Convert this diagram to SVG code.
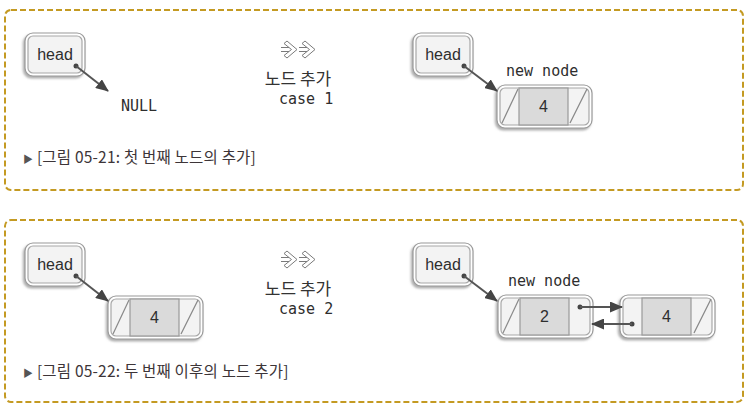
<svg xmlns="http://www.w3.org/2000/svg" xmlns:xlink="http://www.w3.org/1999/xlink" width="753" height="415" viewBox="0 0 753 415">
<style>
.panel{fill:none;stroke:#c49a22;stroke-width:2;stroke-dasharray:6 3}
.outer{fill:#fff;stroke:#9a9a9a;stroke-width:1.2}
.inner{fill:#f3f3f3;stroke:#a8a8a8;stroke-width:1.2}
.mid{fill:#dadada;stroke:#9a9a9a;stroke-width:1.2}
.slash{stroke:#888;stroke-width:1.2}
.lbl{font-family:"Liberation Sans",Arial,sans-serif;fill:#2e2e2e}
.mono{font-family:"DejaVu Sans Mono","Liberation Mono",monospace;fill:#2e2e2e}
.kr{font-family:"Noto Sans CJK KR","Noto Sans",sans-serif;fill:#333}
.cap{font-family:"Noto Sans CJK KR","Noto Sans",sans-serif;fill:#3d3538;font-size:15.5px;letter-spacing:0.2px}
.link{stroke:#555;stroke-width:2;fill:none;marker-end:url(#ah)}
.dot{fill:#444}
.icon{fill:#fff;stroke:#7a7a7a;stroke-width:1}
</style>
<defs>
<filter id="sh" x="-20%" y="-20%" width="140%" height="150%">
<feDropShadow dx="-1.5" dy="2" stdDeviation="1" flood-color="#777" flood-opacity="0.6"/>
</filter>
<marker id="ah" markerWidth="13" markerHeight="11" refX="12" refY="5.5" orient="auto" markerUnits="userSpaceOnUse">
<path d="M0,0 L13,5.5 L0,11 Z" fill="#444"/>
</marker>
<g id="headShape">
<rect class="outer" x="0" y="0" width="60" height="43" rx="8" filter="url(#sh)"/>
<rect class="inner" x="3" y="3" width="54" height="37" rx="5"/>
<text class="lbl" x="30" y="27" font-size="16" text-anchor="middle">head</text>
</g>
<g id="nodeShape">
<rect class="outer" x="0" y="0" width="95" height="43" rx="8" filter="url(#sh)"/>
<rect class="inner" x="3" y="3" width="89" height="37" rx="5"/>
<rect class="mid" x="22" y="3" width="49" height="37"/>
</g>
<g id="arrowIcon">
<path class="icon" d="M6,0 L16,8.5 L6,17 L3,14.5 L10.5,8.5 L3,2.5 Z"/>
<path d="M0,6.5 H8 M0,10.5 H8" stroke="#7a7a7a" stroke-width="1"/>
</g>
</defs>

<rect class="panel" x="5" y="10" width="738" height="180" rx="6"/>
<rect class="panel" x="5" y="220" width="738" height="182" rx="6"/>

<!-- Panel 1 -->
<g id="head1a"><use xlink:href="#headShape" x="25" y="33"/></g>
<g id="null1"><text class="mono" x="121" y="111" font-size="15">NULL</text></g>
<g id="step1">
<use xlink:href="#arrowIcon" x="281" y="41"/>
<use xlink:href="#arrowIcon" x="299" y="41"/>
<text class="kr" x="298" y="85" font-size="17" text-anchor="middle">노드 추가</text>
<text class="mono" x="279" y="104" font-size="15">case 1</text>
</g>
<g id="head1b"><use xlink:href="#headShape" x="413" y="33"/></g>
<g id="newnode1">
<text class="mono" x="506" y="76" font-size="15">new node</text>
<use xlink:href="#nodeShape" x="497" y="85"/>
<line class="slash" x1="502" y1="123" x2="518" y2="89"/>
<line class="slash" x1="570" y1="123" x2="587" y2="89"/>
<text class="lbl" x="543.5" y="112" font-size="16" text-anchor="middle">4</text>
</g>
<g id="caption1"><text class="cap" x="23" y="163"><tspan font-size="10" fill="#555">▶</tspan> [그림 05-21: 첫 번째 노드의 추가]</text></g>

<!-- Panel 2 -->
<g id="head2a"><use xlink:href="#headShape" x="25" y="243"/></g>
<g id="node2a">
<use xlink:href="#nodeShape" x="108" y="296"/>
<line class="slash" x1="113" y1="334" x2="129" y2="300"/>
<line class="slash" x1="181" y1="334" x2="198" y2="300"/>
<text class="lbl" x="154.5" y="323" font-size="16" text-anchor="middle">4</text>
</g>
<g id="step2">
<use xlink:href="#arrowIcon" x="281" y="251"/>
<use xlink:href="#arrowIcon" x="299" y="251"/>
<text class="kr" x="298" y="295" font-size="17" text-anchor="middle">노드 추가</text>
<text class="mono" x="279" y="314" font-size="15">case 2</text>
</g>
<g id="head2b"><use xlink:href="#headShape" x="413" y="243"/></g>
<g id="newnode2">
<text class="mono" x="508" y="286" font-size="15">new node</text>
<use xlink:href="#nodeShape" x="498" y="295"/>
<line class="slash" x1="503" y1="333" x2="519" y2="299"/>
<text class="lbl" x="544.5" y="322" font-size="16" text-anchor="middle">2</text>
</g>
<g id="node2c">
<use xlink:href="#nodeShape" x="620" y="295"/>
<line class="slash" x1="694" y1="333" x2="711" y2="299"/>
<text class="lbl" x="666.5" y="322" font-size="16" text-anchor="middle">4</text>
</g>
<g id="caption2"><text class="cap" x="23" y="377"><tspan font-size="10" fill="#555">▶</tspan> [그림 05-22: 두 번째 이후의 노드 추가]</text></g>

<g id="connectors">
<circle class="dot" cx="76" cy="66" r="2.5"/>
<line class="link" x1="76" y1="66" x2="108" y2="91"/>
<circle class="dot" cx="464" cy="66" r="2.5"/>
<line class="link" x1="464" y1="66" x2="497" y2="91"/>
<circle class="dot" cx="76" cy="276" r="2.5"/>
<line class="link" x1="76" y1="276" x2="108" y2="301"/>
<circle class="dot" cx="464" cy="276" r="2.5"/>
<line class="link" x1="464" y1="276" x2="497" y2="301"/>
<circle class="dot" cx="580" cy="307" r="2.5"/>
<line class="link" x1="580" y1="307" x2="622" y2="307"/>
<circle class="dot" cx="632" cy="324" r="2.5"/>
<line class="link" x1="632" y1="324" x2="592" y2="324"/>
</g>
</svg>
